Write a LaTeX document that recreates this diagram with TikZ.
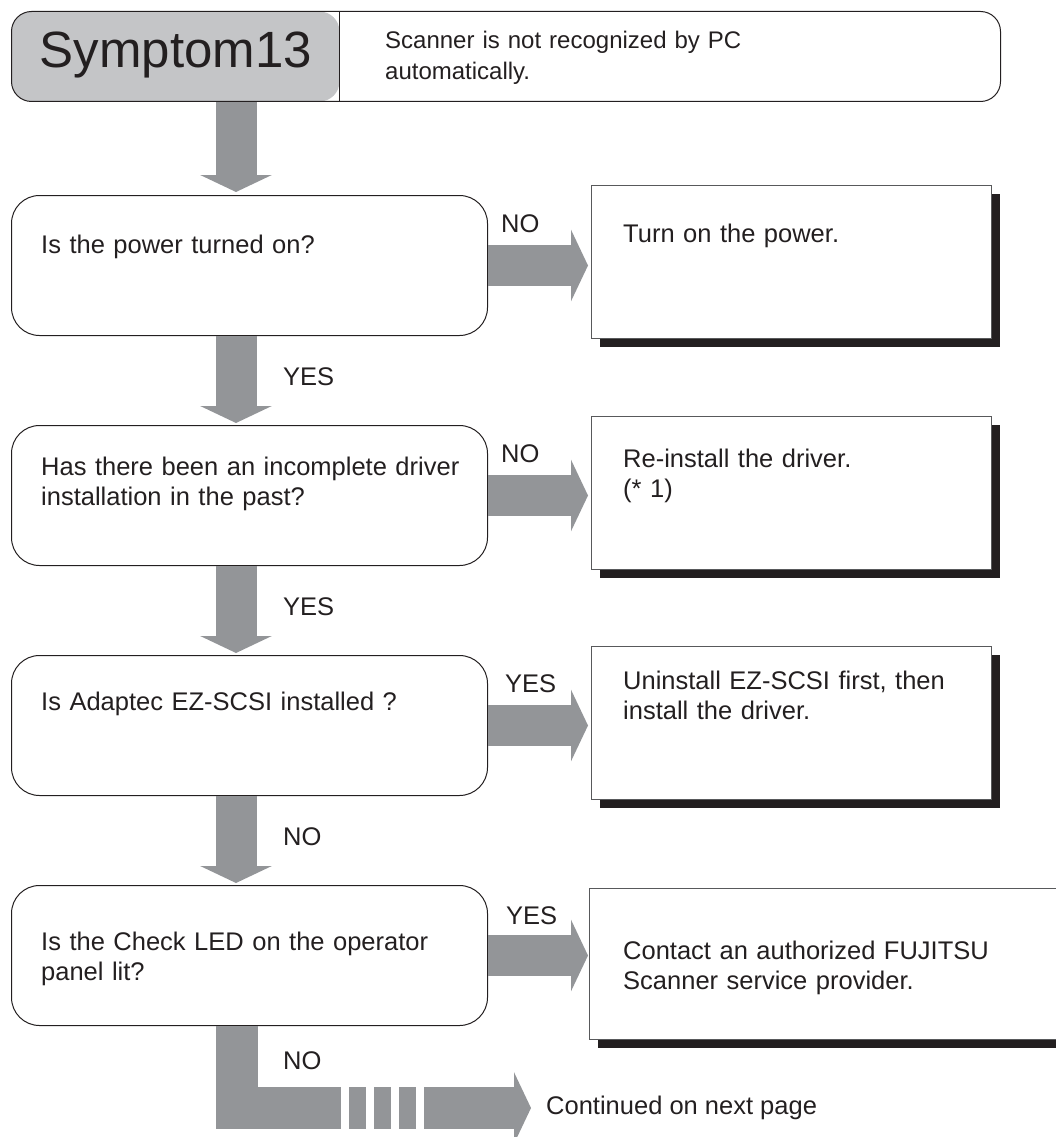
\documentclass[tikz,border=0pt]{standalone}
\usepackage{fontspec}
\setmainfont{Liberation Sans}
\usetikzlibrary{positioning,arrows.meta,shadows}
\definecolor{ink}      {HTML}{231F20}
\definecolor{flowgray} {HTML}{939598}
\definecolor{headgray} {HTML}{C4C5C7}
\definecolor{edgegray} {HTML}{58595B}
\tikzset{
  every node/.style={font=\fontsize{25.5}{30}\selectfont, text=ink},
  % --- boxes
  hdr/.style  = {draw=ink, line width=1pt, rounded corners=20pt, anchor=north west,
                 minimum width=989pt, minimum height=90pt, inner sep=0pt,
                 path picture={\fill[headgray] (path picture bounding box.north west)
                   rectangle ([xshift=328pt]path picture bounding box.south west);}},
  ask/.style  = {draw=ink, line width=1pt, rounded corners=28pt, anchor=north west,
                 minimum width=476pt, minimum height=140pt, inner sep=0pt},
  act/.style  = {draw=edgegray, fill=white, line width=1pt, anchor=north west,
                 minimum width=400pt, minimum height=153pt, inner sep=0pt,
                 drop shadow={shadow xshift=8pt, shadow yshift=-8pt, opacity=1, fill=ink}},
  txt/.style  = {anchor=base west, inner sep=0pt, align=left, text width=440pt},
  yn/.style   = {anchor=base west, inner sep=0pt},
  % --- arrows
  flow/.style = {draw=flowgray, line width=41pt, -{Triangle[length=17pt, width=71pt]}},
}

\begin{document}
\begin{tikzpicture}[x=1pt, y=-1pt]
  \useasboundingbox (0,0) rectangle (1056,1137);
  % header
  \node[hdr] (hdr) at (11,11) {};
  \draw[ink, line width=1pt] ([xshift=328pt]hdr.north west) -- ([xshift=328pt]hdr.south west);
  \node[anchor=base, font=\fontsize{51}{51}\selectfont] (sym) at (176,68) {Symptom13};
  \node[txt, text width=600pt, font=\fontsize{24}{31}\selectfont] (ttl) at (385,49)
    {Scanner is not recognized by PC\\automatically.};

  % questions
  \node[ask] (q1) at (11,195) {};
  \node[ask] (q2) at (11,425) {};
  \node[ask] (q3) at (11,655) {};
  \node[ask] (q4) at (11,885) {};
  \node[txt] (q1t) at (41,253) {Is the power turned on?};
  \node[txt] (q2t) at (41,475) {Has there been an incomplete driver\\installation in the past?};
  \node[txt] (q3t) at (41,710) {Is Adaptec EZ-SCSI installed ?};
  \node[txt] (q4t) at (41,950) {Is the Check LED on the operator\\panel lit?};

  % actions
  \node[act] (r1) at (591,185) {};
  \node[act] (r2) at (591,416) {};
  \node[act] (r3) at (591,646) {};
  \node[act, minimum width=480pt, minimum height=151pt] (r4) at (589,888) {};
  \node[txt] (r1t) at (623,242) {Turn on the power.};
  \node[txt] (r2t) at (623,467) {Re-install the driver.\\(* 1)};
  \node[txt] (r3t) at (623,689) {Uninstall EZ-SCSI first, then\\install the driver.};
  \node[txt] (r4t) at (623,959) {Contact an authorized FUJITSU\\Scanner service provider.};

  % down arrows
  \draw[flow] ([xshift=225pt]hdr.south west) -- ([xshift=225pt,yshift=3pt]q1.north west);
  \draw[flow] ([xshift=225pt]q1.south west) -- ([xshift=225pt,yshift=2pt]q2.north west);
  \draw[flow] ([xshift=225pt]q2.south west) -- ([xshift=225pt,yshift=2pt]q3.north west);
  \draw[flow] ([xshift=225pt]q3.south west) -- ([xshift=225pt,yshift=2pt]q4.north west);
  \node[yn] (y1) at (283,385) {YES};
  \node[yn] (y2) at (283,615) {YES};
  \node[yn] (n3) at (283,845) {NO};
  \node[yn] (n4) at (283,1069) {NO};

  % side arrows
  \draw[flow] (q1.east) -- ([xshift=-3pt]r1.west |- q1.east);
  \draw[flow] (q2.east) -- ([xshift=-3pt]r2.west |- q2.east);
  \draw[flow] (q3.east) -- ([xshift=-3pt]r3.west |- q3.east);
  \draw[flow] (q4.east) -- ([xshift=-1pt]r4.west |- q4.east);
  \node[yn] (s1) at (501,232) {NO};
  \node[yn] (s2) at (501,462) {NO};
  \node[yn] (s3) at (505,692) {YES};
  \node[yn] (s4) at (506,924) {YES};

  % continued on next page
  \node[anchor=west, inner sep=0pt] (cont) at (546,1108) {Continued on next page};
  \draw[flowgray, line width=42pt, line join=miter] ([xshift=226pt]q4.south west) |- (341,1108);
  \foreach \bx in {349,374,399}
    \fill[flowgray] (\bx,1087) rectangle ++(17,42);
  \draw[flow, line width=42pt] (424,1108) -- ([xshift=-15pt]cont.west);
\end{tikzpicture}
\end{document}
